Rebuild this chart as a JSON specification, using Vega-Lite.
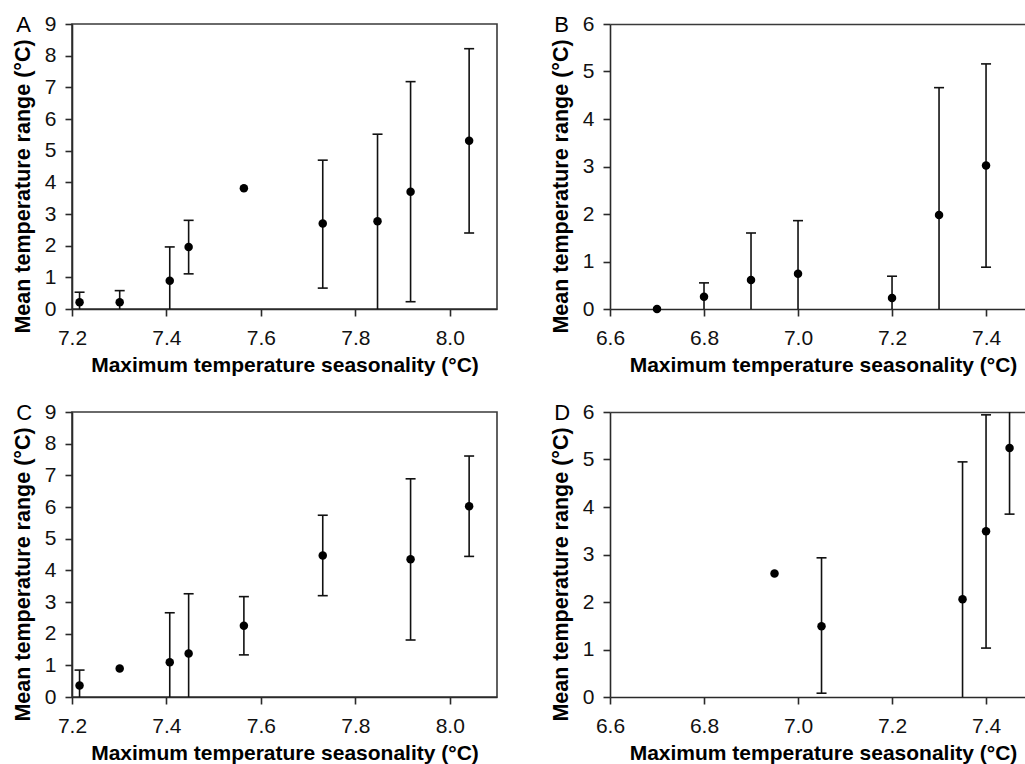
{
  "$schema": "https://vega.github.io/schema/vega-lite/v6.json",
  "padding": {"left": 11, "top": 12, "right": 0, "bottom": 0},
  "background": "white",
  "config": {
    "font": "Liberation Sans",
    "view": {"stroke": "#3a3a3a", "strokeWidth": 1.6},
    "axis": {
      "grid": false,
      "labelOverlap": false, "labelFlush": false, "labelBound": false,
      "domainColor": "#2a2a2a", "domainWidth": 1.6,
      "tickColor": "#2a2a2a", "tickWidth": 1.6, "tickSize": 7,
      "labelFont": "Liberation Sans", "labelFontSize": 21, "labelColor": "#111", "labelPadding": 9,
      "titleFont": "Liberation Sans", "titleFontSize": 21, "titleFontWeight": "bold", "titleColor": "#000"
    },
    "axisX": {"titlePadding": 6, "labelPadding": 11},
    "axisY": {"titlePadding": 10, "titleFontSize": 21.5, "titleY": 162},
    "title": {"fontSize": 22, "fontWeight": "normal", "anchor": "start", "frame": "bounds", "offset": -24, "dx": 4, "color": "#000", "font": "Liberation Sans"}
  },
  "datasets": {
    "A": [
      {"x": 7.216, "y": 0.21, "lo": -0.11, "hi": 0.53},
      {"x": 7.301, "y": 0.21, "lo": -0.16, "hi": 0.58},
      {"x": 7.407, "y": 0.89, "lo": -0.18, "hi": 1.96},
      {"x": 7.447, "y": 1.96, "lo": 1.11, "hi": 2.80},
      {"x": 7.564, "y": 3.81, "lo": null, "hi": null},
      {"x": 7.731, "y": 2.70, "lo": 0.66, "hi": 4.70},
      {"x": 7.847, "y": 2.77, "lo": -0.05, "hi": 5.52},
      {"x": 7.917, "y": 3.70, "lo": 0.23, "hi": 7.18},
      {"x": 8.041, "y": 5.31, "lo": 2.40, "hi": 8.22}
    ],
    "B": [
      {"x": 6.70, "y": 0.0, "lo": null, "hi": null},
      {"x": 6.80, "y": 0.26, "lo": -0.05, "hi": 0.55},
      {"x": 6.90, "y": 0.61, "lo": -0.38, "hi": 1.60},
      {"x": 7.00, "y": 0.74, "lo": -0.38, "hi": 1.86},
      {"x": 7.20, "y": 0.23, "lo": -0.23, "hi": 0.69},
      {"x": 7.30, "y": 1.98, "lo": -0.70, "hi": 4.66},
      {"x": 7.40, "y": 3.02, "lo": 0.88, "hi": 5.16}
    ],
    "C": [
      {"x": 7.216, "y": 0.36, "lo": -0.13, "hi": 0.85},
      {"x": 7.301, "y": 0.90, "lo": null, "hi": null},
      {"x": 7.407, "y": 1.10, "lo": -0.46, "hi": 2.66},
      {"x": 7.447, "y": 1.37, "lo": -0.52, "hi": 3.26},
      {"x": 7.564, "y": 2.25, "lo": 1.33, "hi": 3.17},
      {"x": 7.731, "y": 4.47, "lo": 3.20, "hi": 5.74},
      {"x": 7.917, "y": 4.35, "lo": 1.80, "hi": 6.89},
      {"x": 8.041, "y": 6.02, "lo": 4.44, "hi": 7.61}
    ],
    "D": [
      {"x": 6.95, "y": 2.60, "lo": null, "hi": null},
      {"x": 7.05, "y": 1.49, "lo": 0.08, "hi": 2.93},
      {"x": 7.35, "y": 2.06, "lo": -0.83, "hi": 4.95},
      {"x": 7.40, "y": 3.49, "lo": 1.03, "hi": 5.94},
      {"x": 7.45, "y": 5.24, "lo": 3.85, "hi": 6.63}
    ]
  },
  "columns": 2,
  "spacing": {"row": 24, "column": 52},
  "concat": [
    {
      "width": 425, "height": 285,
      "title": {"text": "A"},
      "data": {"name": "A"},
      "encoding": {
        "x": {"field": "x", "type": "quantitative", "title": "Maximum temperature seasonality (°C)",
              "scale": {"domain": [7.2, 8.1], "nice": false, "zero": false},
              "axis": {"values": [7.2, 7.4, 7.6, 7.8, 8.0], "format": ".1f"}}
      },
      "layer": [
        {"transform": [{"filter": "datum.hi != null"}],
         "mark": {"type": "rule", "clip": true, "color": "#111", "strokeWidth": 1.6},
         "encoding": {
           "y": {"field": "lo", "type": "quantitative", "title": "Mean temperature range (°C)",
                 "scale": {"domain": [0, 9], "nice": false},
                 "axis": {"values": [0, 1, 2, 3, 4, 5, 6, 7, 8, 9]}},
           "y2": {"field": "hi"}}},
        {"transform": [{"filter": "datum.hi != null"}],
         "mark": {"type": "tick", "orient": "horizontal", "clip": true, "color": "#111", "size": 10, "thickness": 1.6, "opacity": 1},
         "encoding": {"y": {"field": "hi", "type": "quantitative", "title": "Mean temperature range (°C)", "axis": {"values": [0, 1, 2, 3, 4, 5, 6, 7, 8, 9]}}}},
        {"transform": [{"filter": "datum.hi != null"}],
         "mark": {"type": "tick", "orient": "horizontal", "clip": true, "color": "#111", "size": 10, "thickness": 1.6, "opacity": 1},
         "encoding": {"y": {"field": "lo", "type": "quantitative", "title": "Mean temperature range (°C)", "axis": {"values": [0, 1, 2, 3, 4, 5, 6, 7, 8, 9]}}}},
        {"mark": {"type": "point", "filled": true, "color": "#000", "size": 72, "opacity": 1, "shape": "circle"},
         "encoding": {"y": {"field": "y", "type": "quantitative", "title": "Mean temperature range (°C)", "axis": {"values": [0, 1, 2, 3, 4, 5, 6, 7, 8, 9]}}}}
      ]
    },
    {
      "width": 416, "height": 285,
      "title": {"text": "B"},
      "data": {"name": "B"},
      "view": {"stroke": null},
      "resolve": {"axis": {"x": "independent"}},
      "layer": [
        {"transform": [{"filter": "datum.hi != null"}],
         "mark": {"type": "rule", "clip": true, "color": "#111", "strokeWidth": 1.6},
         "encoding": {
           "x": {"field": "x", "type": "quantitative", "title": null,
                 "scale": {"domain": [6.6, 7.485], "nice": false, "zero": false},
                 "axis": {"orient": "top", "labels": false, "ticks": false, "title": null, "domainColor": "#3a3a3a"}},
           "y": {"field": "lo", "type": "quantitative", "title": "Mean temperature range (°C)",
                 "scale": {"domain": [0, 6], "nice": false},
                 "axis": {"values": [0, 1, 2, 3, 4, 5, 6]}},
           "y2": {"field": "hi"}}},
        {"transform": [{"filter": "datum.hi != null"}],
         "mark": {"type": "tick", "orient": "horizontal", "clip": true, "color": "#111", "size": 10, "thickness": 1.6, "opacity": 1},
         "encoding": {"x": {"field": "x", "type": "quantitative", "axis": null},
                      "y": {"field": "hi", "type": "quantitative", "title": "Mean temperature range (°C)", "axis": {"values": [0, 1, 2, 3, 4, 5, 6]}}}},
        {"transform": [{"filter": "datum.hi != null"}],
         "mark": {"type": "tick", "orient": "horizontal", "clip": true, "color": "#111", "size": 10, "thickness": 1.6, "opacity": 1},
         "encoding": {"x": {"field": "x", "type": "quantitative", "axis": null},
                      "y": {"field": "lo", "type": "quantitative", "title": "Mean temperature range (°C)", "axis": {"values": [0, 1, 2, 3, 4, 5, 6]}}}},
        {"mark": {"type": "point", "filled": true, "color": "#000", "size": 72, "opacity": 1, "shape": "circle"},
         "encoding": {"x": {"field": "x", "type": "quantitative", "title": "Maximum temperature seasonality (°C)",
                            "axis": {"values": [6.6, 6.8, 7.0, 7.2, 7.4], "format": ".1f", "titleX": 213}},
                      "y": {"field": "y", "type": "quantitative", "title": "Mean temperature range (°C)", "axis": {"values": [0, 1, 2, 3, 4, 5, 6]}}}}
      ]
    },
    {
      "width": 425, "height": 285,
      "title": {"text": "C"},
      "data": {"name": "C"},
      "encoding": {
        "x": {"field": "x", "type": "quantitative", "title": "Maximum temperature seasonality (°C)",
              "scale": {"domain": [7.2, 8.1], "nice": false, "zero": false},
              "axis": {"values": [7.2, 7.4, 7.6, 7.8, 8.0], "format": ".1f"}}
      },
      "layer": [
        {"transform": [{"filter": "datum.hi != null"}],
         "mark": {"type": "rule", "clip": true, "color": "#111", "strokeWidth": 1.6},
         "encoding": {
           "y": {"field": "lo", "type": "quantitative", "title": "Mean temperature range (°C)",
                 "scale": {"domain": [0, 9], "nice": false},
                 "axis": {"values": [0, 1, 2, 3, 4, 5, 6, 7, 8, 9]}},
           "y2": {"field": "hi"}}},
        {"transform": [{"filter": "datum.hi != null"}],
         "mark": {"type": "tick", "orient": "horizontal", "clip": true, "color": "#111", "size": 10, "thickness": 1.6, "opacity": 1},
         "encoding": {"y": {"field": "hi", "type": "quantitative", "title": "Mean temperature range (°C)", "axis": {"values": [0, 1, 2, 3, 4, 5, 6, 7, 8, 9]}}}},
        {"transform": [{"filter": "datum.hi != null"}],
         "mark": {"type": "tick", "orient": "horizontal", "clip": true, "color": "#111", "size": 10, "thickness": 1.6, "opacity": 1},
         "encoding": {"y": {"field": "lo", "type": "quantitative", "title": "Mean temperature range (°C)", "axis": {"values": [0, 1, 2, 3, 4, 5, 6, 7, 8, 9]}}}},
        {"mark": {"type": "point", "filled": true, "color": "#000", "size": 72, "opacity": 1, "shape": "circle"},
         "encoding": {"y": {"field": "y", "type": "quantitative", "title": "Mean temperature range (°C)", "axis": {"values": [0, 1, 2, 3, 4, 5, 6, 7, 8, 9]}}}}
      ]
    },
    {
      "width": 416, "height": 285,
      "title": {"text": "D"},
      "data": {"name": "D"},
      "view": {"stroke": null},
      "resolve": {"axis": {"x": "independent"}},
      "layer": [
        {"transform": [{"filter": "datum.hi != null"}],
         "mark": {"type": "rule", "clip": true, "color": "#111", "strokeWidth": 1.6},
         "encoding": {
           "x": {"field": "x", "type": "quantitative", "title": null,
                 "scale": {"domain": [6.6, 7.485], "nice": false, "zero": false},
                 "axis": {"orient": "top", "labels": false, "ticks": false, "title": null, "domainColor": "#3a3a3a"}},
           "y": {"field": "lo", "type": "quantitative", "title": "Mean temperature range (°C)",
                 "scale": {"domain": [0, 6], "nice": false},
                 "axis": {"values": [0, 1, 2, 3, 4, 5, 6]}},
           "y2": {"field": "hi"}}},
        {"transform": [{"filter": "datum.hi != null"}],
         "mark": {"type": "tick", "orient": "horizontal", "clip": true, "color": "#111", "size": 10, "thickness": 1.6, "opacity": 1},
         "encoding": {"x": {"field": "x", "type": "quantitative", "axis": null},
                      "y": {"field": "hi", "type": "quantitative", "title": "Mean temperature range (°C)", "axis": {"values": [0, 1, 2, 3, 4, 5, 6]}}}},
        {"transform": [{"filter": "datum.hi != null"}],
         "mark": {"type": "tick", "orient": "horizontal", "clip": true, "color": "#111", "size": 10, "thickness": 1.6, "opacity": 1},
         "encoding": {"x": {"field": "x", "type": "quantitative", "axis": null},
                      "y": {"field": "lo", "type": "quantitative", "title": "Mean temperature range (°C)", "axis": {"values": [0, 1, 2, 3, 4, 5, 6]}}}},
        {"mark": {"type": "point", "filled": true, "color": "#000", "size": 72, "opacity": 1, "shape": "circle"},
         "encoding": {"x": {"field": "x", "type": "quantitative", "title": "Maximum temperature seasonality (°C)",
                            "axis": {"values": [6.6, 6.8, 7.0, 7.2, 7.4], "format": ".1f", "titleX": 213}},
                      "y": {"field": "y", "type": "quantitative", "title": "Mean temperature range (°C)", "axis": {"values": [0, 1, 2, 3, 4, 5, 6]}}}}
      ]
    }
  ]
}
